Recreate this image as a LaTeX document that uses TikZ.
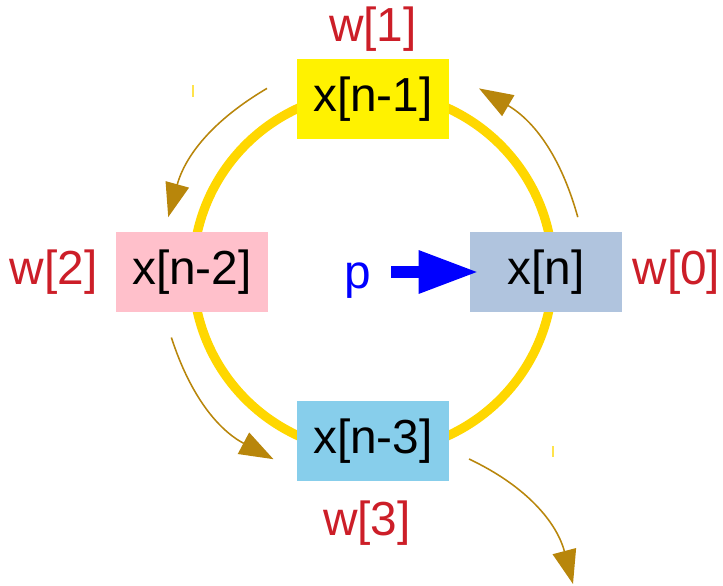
\documentclass[tikz,border=0pt]{standalone}
\usepackage{fontspec}
\setmainfont{Liberation Sans}
\usetikzlibrary{arrows.meta,positioning}

\definecolor{anello}{HTML}{FFD700}
\definecolor{rosso}{RGB}{204,30,40}
\definecolor{bronzo}{HTML}{B8860B}
\definecolor{acciaio}{HTML}{B0C4DE}
\definecolor{cielo}{HTML}{87CEEB}
\definecolor{rosa}{HTML}{FFC0CB}

\begin{document}
\begin{tikzpicture}[
    cella/.style={minimum width=3.8cm, minimum height=2cm, inner sep=0pt, font=\fontsize{34}{40}\selectfont},
    peso/.style={text=rosso, inner sep=0pt, font=\fontsize{34}{40}\selectfont},
    giro/.style={bronzo, line width=1.1pt, -{Triangle[length=0.85cm,width=0.6cm]}},
]
    \useasboundingbox (-9.325,-7.825) rectangle (8.75,6.8);

    % Raggio dell'anello e delle frecce di rotazione
    \def\R{4.5}
    \def\Rf{5.3}

    % Anello del buffer circolare (sotto le celle)
    \draw[anello, line width=0.23cm] (0,0) circle (\R);

    % piccoli segni residui
    \draw[anello!70, line width=1pt] (-4.5,4.675) -- (-4.5,4.375);
    \draw[anello!70, line width=1pt] (4.5,-4.35) -- (4.5,-4.625);

    % Celle del buffer
    \node[cella, fill=yellow]  (xn1) at (0,4.325)    {x[n-1]};
    \node[cella, fill=rosa]    (xn2) at (-4.525,0)   {x[n-2]};
    \node[cella, fill=acciaio] (xn)  at (4.325,0)    {x[n]};
    \node[cella, fill=cielo]   (xn3) at (0,-4.225)   {x[n-3]};

    % Pesi
    \node[peso, above=0.175cm of xn1] (w1) {w[1]};
    \node[peso, left=0.45cm of xn2]   (w2) {w[2]};
    \node[peso, right=0.25cm of xn]   (w0) {w[0]};
    \node[peso, below=0.475cm of xn3, xshift=-0.15cm] (w3) {w[3]};

    % Puntatore
    \node[peso, text=blue] (p) at (-0.375,-0.225) {p};
    \draw[blue, line width=0.3cm, -{Triangle[length=1.5cm,width=1cm]},
          shorten <=0.49cm, shorten >=-0.225cm] (p.east |- xn.west) -- (xn.west);

    % Frecce di rotazione
    \coordinate (a1) at (120:\Rf);
    \coordinate (b1) at (165:\Rf);
    \coordinate (a2) at (15:\Rf);
    \coordinate (b2) at (60:\Rf);
    \coordinate (a3) at (198:\Rf);
    \coordinate (b3) at (242:\Rf);
    \coordinate (a4) at (2.4,-4.675);
    \coordinate (b4) at (5,-7.8);

    \draw[giro] (a1) to[bend right=22] (b1);
    \draw[giro] (a2) to[bend right=22] (b2);
    \draw[giro] (a3) to[bend right=22] (b3);
    \draw[giro] (a4) to[bend left=25] (b4);

\end{tikzpicture}
\end{document}
